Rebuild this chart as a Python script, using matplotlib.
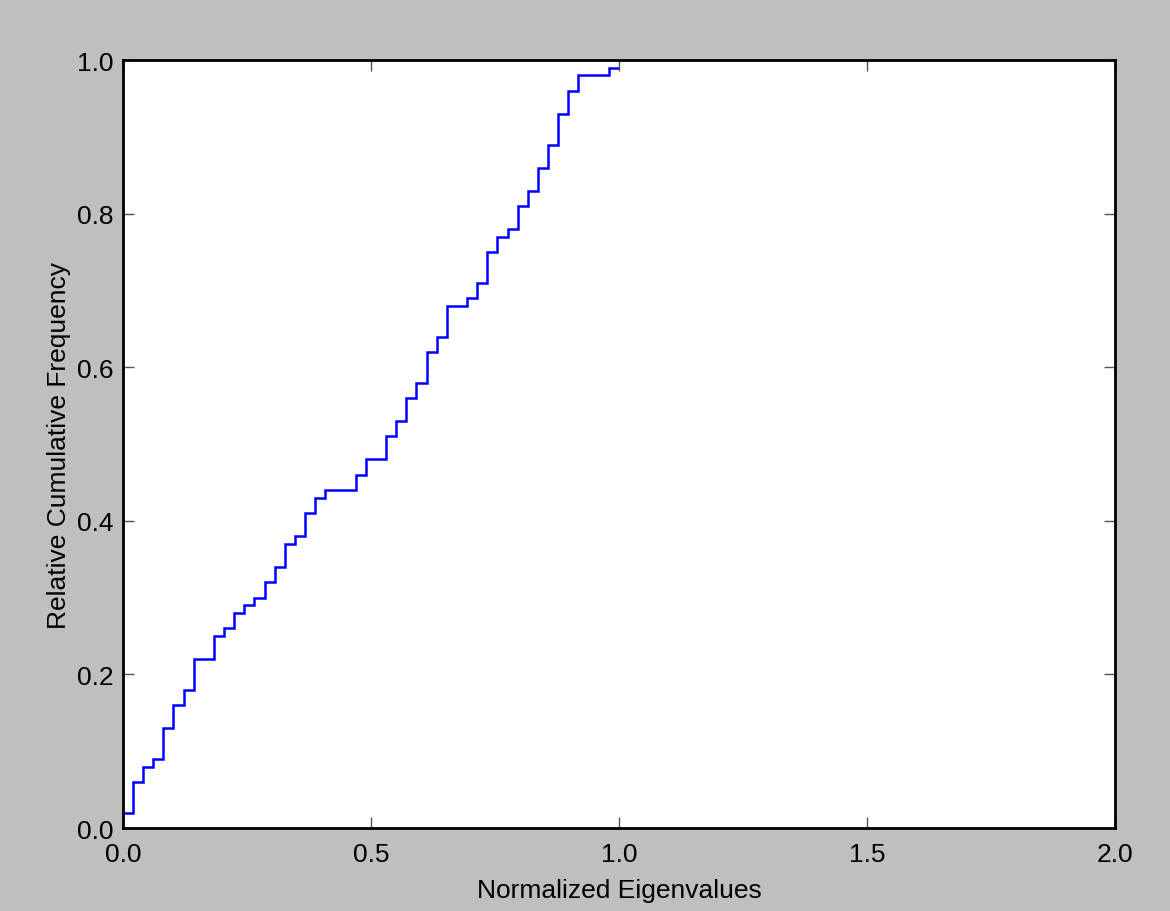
import numpy as np
import matplotlib
matplotlib.use('Agg')
import matplotlib.pyplot as plt

# cumulative relative frequency of the normalized eigenvalues (49 bins on 0..1)
bin_edges = np.linspace(0.0, 1.0, 50)
cum_freq = [0.02, 0.06, 0.08, 0.09, 0.13, 0.16, 0.18, 0.22, 0.22, 0.25,
            0.26, 0.28, 0.29, 0.30, 0.32, 0.34, 0.37, 0.38, 0.41, 0.43,
            0.44, 0.44, 0.44, 0.46, 0.48, 0.48, 0.51, 0.53, 0.56, 0.58,
            0.62, 0.64, 0.68, 0.68, 0.69, 0.71, 0.75, 0.77, 0.78, 0.81,
            0.83, 0.86, 0.89, 0.93, 0.96, 0.98, 0.98, 0.98, 0.99]

x_ticks = [0.0, 0.5, 1.0, 1.5, 2.0]
y_ticks = [0.0, 0.2, 0.4, 0.6, 0.8, 1.0]

plt.rcParams.update({'font.family': ['Liberation Sans', 'DejaVu Sans'],
                     'font.size': 19})

fig = plt.figure(figsize=(11.7, 9.12), dpi=100, facecolor='#bfbfbf')
ax = fig.add_axes([0.105, 0.091, 0.848, 0.842])
ax.set_facecolor('white')

ax.stairs(cum_freq, bin_edges, baseline=None, color='#0000ff', linewidth=1.8)

ax.set_xlim(0, 2)
ax.set_ylim(0, 1)
ax.set_xticks(x_ticks)
ax.set_yticks(y_ticks)
ax.set_xticklabels(['%.1f' % t for t in x_ticks])
ax.set_yticklabels(['%.1f' % t for t in y_ticks])
ax.tick_params(direction='in', length=8, width=1, color='#555555',
               top=True, right=True)
ax.tick_params(axis='x', pad=10)
ax.tick_params(axis='y', pad=7)

for s in ax.spines.values():
    s.set_linewidth(2)
    s.set_color('black')

ax.set_xlabel('Normalized Eigenvalues', labelpad=9)
ax.set_ylabel('Relative Cumulative Frequency', labelpad=4)

plt.savefig('out.png', dpi=100, facecolor=fig.get_facecolor())
plt.close()
